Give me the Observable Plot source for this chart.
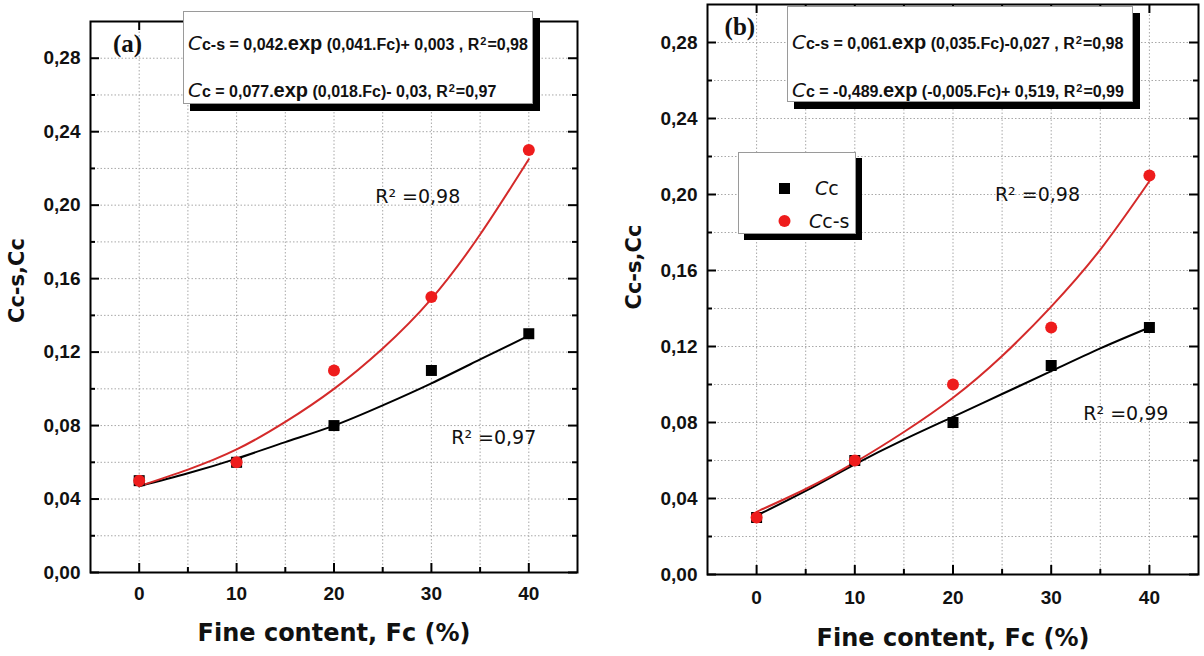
<!DOCTYPE html>
<html>
<head>
<meta charset="utf-8">
<script src="https://cdn.jsdelivr.net/npm/d3@7"></script>
<script src="https://cdn.jsdelivr.net/npm/@observablehq/plot@0.6"></script>
<style>
  html, body { margin: 0; padding: 0; background: #fff; }
  #wrap { position: relative; width: 1204px; height: 656px; overflow: hidden; background: #fff; }
  .panel { position: absolute; top: 0; }
  .eqbox { position: absolute; background: #fff; border: 1px solid #9a9a9a; box-shadow: 7px 7px 0 #000; box-sizing: border-box; }
  .eq { position: absolute; left: 4px; white-space: nowrap; font-family: "Liberation Sans", Arial, sans-serif; font-weight: bold; font-size: 16px; color: #111; line-height: 20px; }
  .eq .C { font-family: "DejaVu Sans", sans-serif; font-style: italic; font-weight: normal; font-size: 20px; }
  .eq .ex { font-size: 20px; }
  .eq sup { font-size: 11px; position: relative; top: -5px; vertical-align: baseline; margin: 0 1px; }
  .legend { position: absolute; background: #fff; border: 1px solid #9a9a9a; box-shadow: 6px 6px 0 #000; box-sizing: border-box; }
  .lg { position: absolute; font-family: "DejaVu Sans", sans-serif; font-size: 19px; color: #111; white-space: nowrap; line-height: 22px; }
  .lg i { font-style: italic; }
</style>
</head>
<body>
<div id="wrap">
  <div id="pa" class="panel" style="left:0"></div>
  <div id="pb" class="panel" style="left:602px"></div>

  <div class="eqbox" style="left:183px; top:11px; width:350px; height:93px;">
    <div class="eq" style="top:21px"><span class="C">C</span>c-s = 0,042.<span class="ex">exp</span> (0,041.Fc)+ 0,003 , R<sup>2</sup>=0,98</div>
    <div class="eq" style="top:68px"><span class="C">C</span>c = 0,077.<span class="ex">exp</span> (0,018.Fc)- 0,03, R<sup>2</sup>=0,97</div>
  </div>

  <div class="eqbox" style="left:787px; top:6px; width:346px; height:96px;">
    <div class="eq" style="top:25px"><span class="C">C</span>c-s = 0,061.<span class="ex">exp</span> (0,035.Fc)-0,027 , R<sup>2</sup>=0,98</div>
    <div class="eq" style="top:73px"><span class="C">C</span>c = -0,489.<span class="ex">exp</span> (-0,005.Fc)+ 0,519, R<sup>2</sup>=0,99</div>
  </div>

  <div class="legend" style="left:738px; top:152px; width:118px; height:82px;">
    <svg style="position:absolute; left:0; top:0" width="118" height="82">
      <rect x="40" y="30" width="11" height="11" fill="#000"></rect>
      <circle cx="45.5" cy="68" r="6" fill="#ee1c1c"></circle>
    </svg>
    <div class="lg" style="left:76px; top:24px"><i>C</i>c</div>
    <div class="lg" style="left:70px; top:57px"><i>C</i>c-s</div>
  </div>
</div>

<script>
// ---------------- data ----------------
const fineContent = [0, 10, 20, 30, 40];

// Panel (a)
const ccA  = [0.05, 0.06, 0.08, 0.11, 0.13];
const ccsA = [0.05, 0.06, 0.11, 0.15, 0.23];
// Panel (b)
const ccB  = [0.03, 0.06, 0.08, 0.11, 0.13];
const ccsB = [0.03, 0.06, 0.10, 0.13, 0.21];

// fitted curves
const fitFc    = [0, 5, 10, 15, 20, 25, 30, 35, 40];
const fitCcsA  = [0.047, 0.056, 0.067, 0.082, 0.100, 0.122, 0.149, 0.184, 0.225];
const fitCcA   = [0.047, 0.054, 0.062, 0.071, 0.080, 0.091, 0.103, 0.116, 0.129];
const fitCcsB  = [0.033, 0.045, 0.059, 0.075, 0.093, 0.115, 0.141, 0.171, 0.207];
const fitCcB   = [0.031, 0.044, 0.058, 0.071, 0.083, 0.095, 0.107, 0.119, 0.130];

// ticks
const xMajor = [0, 10, 20, 30, 40];
const xMinor = [5, 15, 25, 35];
const yMajor = [0.00, 0.04, 0.08, 0.12, 0.16, 0.20, 0.24, 0.28];
const yMinor = [0.02, 0.06, 0.10, 0.14, 0.18, 0.22, 0.26];

const xTitle = "Fine content, Fc (%)";
const yTitle = "Cc-s,Cc";

// annotations
const annA = [
  {x: -1.2, y: 0.2877, t: "(a)", kind: "panel"},
  {x: 28.6, y: 0.2045, t: "R² =0,98", kind: "r2"},
  {x: 36.4, y: 0.0734, t: "R² =0,97", kind: "r2"}
];
const annB = [
  {x: -1.7, y: 0.288, t: "(b)", kind: "panel"},
  {x: 28.6, y: 0.1996, t: "R² =0,98", kind: "r2"},
  {x: 37.6, y: 0.0843, t: "R² =0,99", kind: "r2"}
];

// ---------------- build ----------------
const RED = "#ee1c1c";
const RED_LINE = "#d42a2a";
const fmtY = d => d.toFixed(2).replace(".", ",");

function rows(xs, ys) { return xs.map((x, i) => ({x, y: ys[i]})); }

function panel({cc, ccs, fitCc, fitCcs, ann, ml, mr, mt, mb, xPad, titleDy, yTitleDy}) {
  const W = 602, H = 656;
  const fw = W - ml - mr, fh = H - mt - mb;
  const tickLen = 9, minorLen = 5;
  const gridStyle = {stroke: "#a8a8a8", strokeOpacity: 1, strokeWidth: 1, strokeDasharray: "1.5,2"};
  const tickStyle = {stroke: "#000", strokeWidth: 2};
  return Plot.plot({
    width: W, height: H,
    marginLeft: ml, marginRight: mr, marginTop: mt, marginBottom: mb,
    style: {background: "transparent", overflow: "visible"},
    x: {domain: [-5, 45], label: null},
    y: {domain: [0, 0.30], label: null},
    marks: [
      Plot.gridX(xMajor.concat(xMinor), gridStyle),
      Plot.gridY(yMajor.slice(1).concat(yMinor), gridStyle),
      // inward ticks on all four sides
      Plot.ruleX(xMajor, {...tickStyle, insetTop: fh - tickLen}),
      Plot.ruleX(xMinor, {...tickStyle, insetTop: fh - minorLen}),
      Plot.ruleX(xMajor, {...tickStyle, insetBottom: fh - tickLen}),
      Plot.ruleX(xMinor, {...tickStyle, insetBottom: fh - minorLen}),
      Plot.ruleY(yMajor, {...tickStyle, insetRight: fw - tickLen}),
      Plot.ruleY(yMinor, {...tickStyle, insetRight: fw - minorLen}),
      Plot.ruleY(yMajor, {...tickStyle, insetLeft: fw - tickLen}),
      Plot.ruleY(yMinor, {...tickStyle, insetLeft: fw - minorLen}),
      Plot.frame({stroke: "#000", strokeWidth: 2}),
      Plot.axisX(xMajor, {anchor: "bottom", label: null, tickSize: 0, tickPadding: xPad, tickFormat: d => String(d),
        fontSize: 19, fontWeight: "bold", fontFamily: "Liberation Sans, Arial, sans-serif", fill: "#111"}),
      Plot.axisY(yMajor, {anchor: "left", label: null, tickSize: 0, tickPadding: 10, tickFormat: fmtY,
        fontSize: 19, fontWeight: "bold", fontFamily: "Liberation Sans, Arial, sans-serif", fill: "#111"}),
      Plot.text([xTitle], {frameAnchor: "bottom", dy: titleDy, lineAnchor: "middle",
        fontSize: 24, fontWeight: "bold", fontFamily: "DejaVu Sans, sans-serif", fill: "#111"}),
      Plot.text([yTitle], {frameAnchor: "left", rotate: -90, dx: -73, dy: yTitleDy, lineAnchor: "middle",
        fontSize: 21, fontWeight: "bold", fontFamily: "DejaVu Sans, sans-serif", fill: "#111"}),
      // fitted curves
      Plot.line(rows(fitFc, fitCc), {x: "x", y: "y", stroke: "#000", strokeWidth: 2, curve: "natural"}),
      Plot.line(rows(fitFc, fitCcs), {x: "x", y: "y", stroke: RED_LINE, strokeWidth: 2, curve: "natural"}),
      // data points
      Plot.dot(rows(fineContent, cc), {x: "x", y: "y", symbol: "square", r: 6.2, fill: "#000", stroke: "none"}),
      Plot.dot(rows(fineContent, ccs), {x: "x", y: "y", symbol: "circle", r: 6, fill: RED, stroke: "none"}),
      // annotations
      Plot.text(ann.filter(d => d.kind === "panel"), {x: "x", y: "y", text: "t", fontSize: 25, fontWeight: "bold",
        fontFamily: "Liberation Serif, Times New Roman, serif", fill: "#111"}),
      Plot.text(ann.filter(d => d.kind === "r2"), {x: "x", y: "y", text: "t", fontSize: 19,
        fontFamily: "DejaVu Sans, sans-serif", fill: "#111"})
    ]
  });
}

document.getElementById("pa").append(panel({
  cc: ccA, ccs: ccsA, fitCc: fitCcA, fitCcs: fitCcsA, ann: annA,
  ml: 90, mr: 25, mt: 21, mb: 84, xPad: 14, titleDy: 61, yTitleDy: 26
}));
document.getElementById("pb").append(panel({
  cc: ccB, ccs: ccsB, fitCc: fitCcB, fitCcs: fitCcsB, ann: annB,
  ml: 105, mr: 6, mt: 4, mb: 82, xPad: 16, titleDy: 64, yTitleDy: 20
}));
</script>
</body>
</html>
